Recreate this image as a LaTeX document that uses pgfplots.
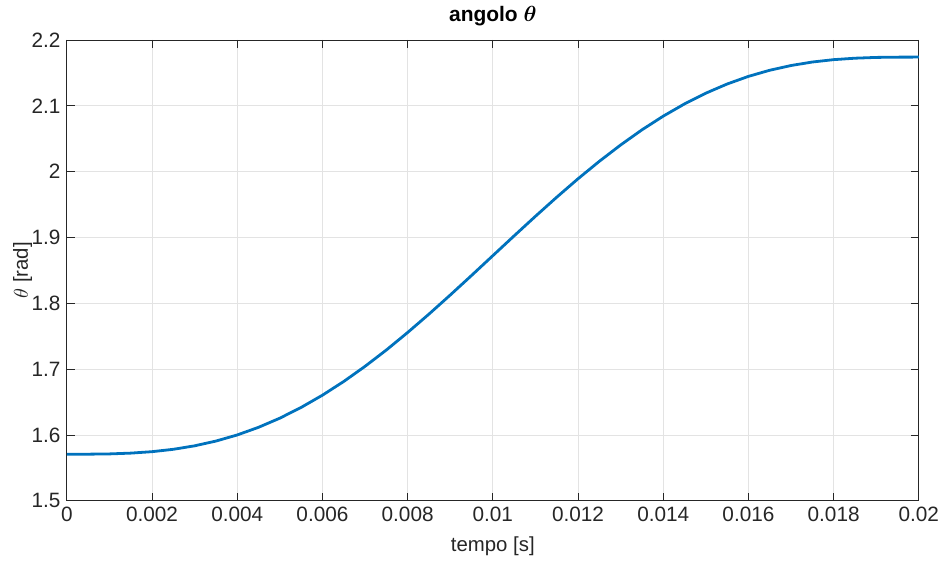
\documentclass[border=0pt]{standalone}
\usepackage{amsmath}
\usepackage{pgfplots}
\pgfplotsset{compat=1.18}
\usepackage{fontspec}
\setmainfont{Liberation Sans}
\definecolor{mblue}{RGB}{0,114,189}
\definecolor{maxis}{RGB}{38,38,38}

\begin{document}
\begin{tikzpicture}
  \fontsize{9}{11}\selectfont
  \begin{axis}[
      scale only axis,
      width=427pt, height=231pt,
      xmin=0, xmax=0.02, ymin=1.5, ymax=2.2,
      xtick={0,0.002,0.004,0.006,0.008,0.01,0.012,0.014,0.016,0.018,0.02},
      ytick={1.5,1.6,1.7,1.8,1.9,2,2.1,2.2},
      scaled x ticks=false,
      xticklabel style={/pgf/number format/fixed, /pgf/number format/precision=3},
      /pgf/number format/assume math mode=true,
      tick label style={font=\fontsize{10.4}{12}\selectfont, text=maxis},
      tick align=inside, tick pos=both,
      major tick length=4pt,
      axis line style={maxis, line width=0.4pt},
      every tick/.style={maxis, line width=0.4pt},
      grid=major,
      major grid style={gray!22, line width=0.4pt},
      title={\bfseries angolo $\boldsymbol{\theta}$},
      title style={font=\fontsize{10.5}{12}\selectfont, yshift=-2pt},
      xlabel={tempo [s]},
      ylabel={$\theta$ [rad]},
      label style={font=\fontsize{10.2}{12}\selectfont, text=maxis},
      xlabel style={yshift=-1pt},
      ylabel style={yshift=-6.5pt},
    ]
    \addplot[mblue, line width=1.4pt] coordinates {
      (0.0000,1.5708) (0.0005,1.5709) (0.0010,1.5713) (0.0015,1.5725)
      (0.0020,1.5747) (0.0025,1.5783) (0.0030,1.5836) (0.0035,1.5908)
      (0.0040,1.6001) (0.0045,1.6117) (0.0050,1.6256) (0.0055,1.6419)
      (0.0060,1.6605) (0.0065,1.6813) (0.0070,1.7043) (0.0075,1.7291)
      (0.0080,1.7557) (0.0085,1.7836) (0.0090,1.8126) (0.0095,1.8423)
      (0.0100,1.8724) (0.0105,1.9025) (0.0110,1.9322) (0.0115,1.9612)
      (0.0120,1.9892) (0.0125,2.0157) (0.0130,2.0405) (0.0135,2.0635)
      (0.0140,2.0843) (0.0145,2.1029) (0.0150,2.1192) (0.0155,2.1331)
      (0.0160,2.1447) (0.0165,2.1540) (0.0170,2.1612) (0.0175,2.1665)
      (0.0180,2.1701) (0.0185,2.1723) (0.0190,2.1735) (0.0195,2.1739)
      (0.0200,2.1740)
    };
    \coordinate (o) at (rel axis cs:0,0);
  \end{axis}
  \path (o) ++(-33.5pt,-31pt) rectangle ++(472.5pt,280.5pt);
\end{tikzpicture}
\end{document}
